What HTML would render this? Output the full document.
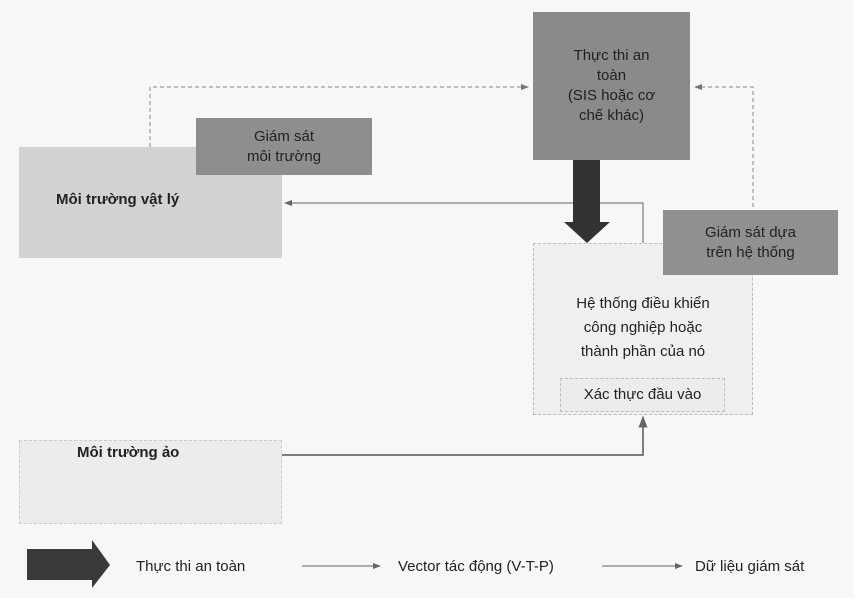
<!DOCTYPE html>
<html><head><meta charset="utf-8"><style>
body{margin:0;width:854px;height:598px;background:#f7f7f5;font-family:"Liberation Sans",sans-serif;position:relative;overflow:hidden;color:#222}
.b{position:absolute;box-sizing:border-box;display:flex;align-items:center;justify-content:center;text-align:center;font-size:15px;line-height:20px}
</style></head><body>
<svg width="854" height="598" style="position:absolute;left:0;top:0">
<defs><marker id="a" markerWidth="8" markerHeight="8" refX="7" refY="4" orient="auto"><path d="M0,1 L8,4 L0,7z" fill="#777"/></marker></defs>
<path d="M150,147 V87 H528" stroke="#888" stroke-dasharray="4,3" fill="none" marker-end="url(#a)"/>
<path d="M753,228 V87 H695" stroke="#888" stroke-dasharray="4,3" fill="none" marker-end="url(#a)"/>
</svg>
<div class="b" style="left:19px;top:147px;width:263px;height:111px;background:#d2d2d2;justify-content:flex-start;padding:0 0 0 37px;font-weight:bold;align-items:flex-start;padding-top:43px">Môi trường vật lý</div>
<div class="b" style="left:196px;top:118px;width:176px;height:57px;background:#8e8e8e;color:#222">Giám sát<br>môi trường</div>
<div class="b" style="left:533px;top:12px;width:157px;height:148px;background:#8a8a8a">Thực thi an<br>toàn<br>(SIS hoặc cơ<br>chế khác)</div>
<div class="b" style="left:533px;top:243px;width:220px;height:172px;background:#efefef;border:1px dashed #bbb;align-items:flex-start;padding-top:48px;line-height:24px">Hệ thống điều khiển<br>công nghiệp hoặc<br>thành phần của nó</div>
<div class="b" style="left:560px;top:378px;width:165px;height:34px;border:1px dashed #bbb;background:#ececec">Xác thực đầu vào</div>
<div class="b" style="left:663px;top:210px;width:175px;height:65px;background:#909090">Giám sát dựa<br>trên hệ thống</div>
<div class="b" style="left:19px;top:440px;width:263px;height:84px;background:#ececec;border:1px dashed #ccc;justify-content:flex-start;padding-left:57px;align-items:flex-start;padding-top:2px;font-weight:bold">Môi trường ảo</div>
<svg width="854" height="598" style="position:absolute;left:0;top:0">
<defs><marker id="c" markerWidth="8" markerHeight="8" refX="7" refY="4" orient="auto"><path d="M0,1 L8,4 L0,7z" fill="#666"/></marker></defs>
<path d="M643,243 V203 H285" stroke="#666" fill="none" marker-end="url(#c)"/>
<path d="M282,455 H643 V417" stroke="#555" stroke-width="1.5" fill="none" marker-end="url(#c)"/>
<path d="M573,160 H600 V222 H610 L587,243 L564,222 H573z" fill="#333"/>
<path d="M27,549 H92 V540 L110,565 L92,588 V580 H27z" fill="#3a3a3a"/>
<path d="M302,566 H380" stroke="#666" fill="none" marker-end="url(#c)"/>
<path d="M602,566 H682" stroke="#666" fill="none" marker-end="url(#c)"/>
<text x="136" y="571" font-size="15" fill="#222" font-family="Liberation Sans">Thực thi an toàn</text>
<text x="398" y="571" font-size="15" fill="#222" font-family="Liberation Sans">Vector tác động (V-T-P)</text>
<text x="695" y="571" font-size="15" fill="#222" font-family="Liberation Sans">Dữ liệu giám sát</text>
</svg>
</body></html>
